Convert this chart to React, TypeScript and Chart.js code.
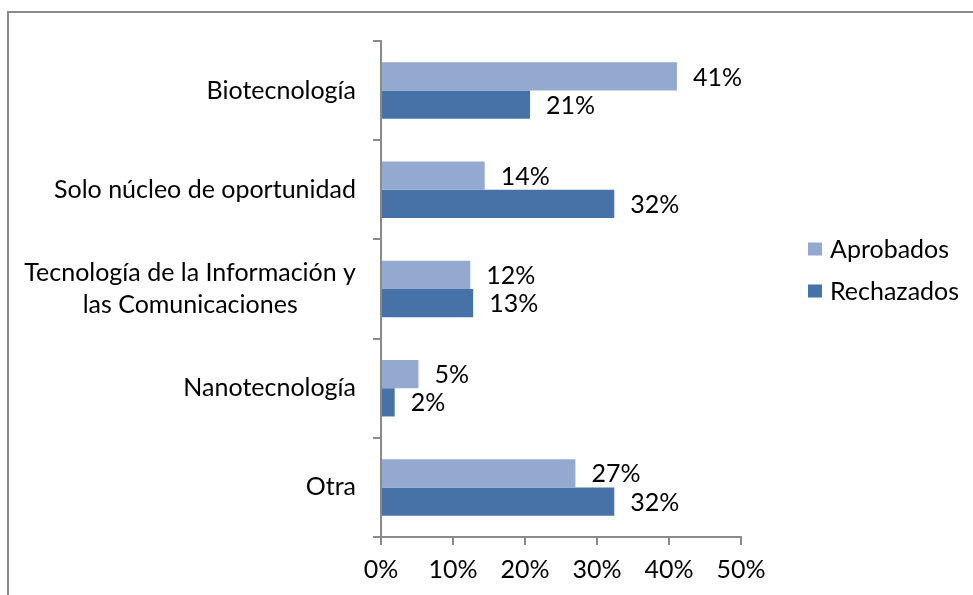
import React, { useEffect, useRef } from "react";
import { Chart, registerables } from "chart.js";

Chart.register(...registerables);

const categories: string[][] = [
  ["Biotecnología"],
  ["Solo núcleo de oportunidad"],
  ["Tecnología de la Información y", "las Comunicaciones"],
  ["Nanotecnología"],
  ["Otra"],
];
const aprobados = [41.1, 14.4, 12.4, 5.2, 27.0];
const rechazados = [20.7, 32.4, 12.8, 1.9, 32.4];
const seriesNames = ["Aprobados", "Rechazados"];
const seriesColors = ["#94A9D0", "#4672A8"];
const xTicks = [0, 10, 20, 30, 40, 50];

const FONT = "Lato";
const FS = 25;
const AXIS_GRAY = "#8a8a8a";

const overlay = {
  id: "overlay",
  beforeDraw(chart: any) {
    const ctx = chart.ctx;
    ctx.save();
    ctx.strokeStyle = "#8a8a8a";
    ctx.lineWidth = 2;
    ctx.beginPath();
    ctx.moveTo(8, 600);
    ctx.lineTo(8, 12);
    ctx.lineTo(980, 12);
    ctx.stroke();
    ctx.restore();
  },
  afterDraw(chart: any) {
    const ctx = chart.ctx;
    const y = chart.scales.y;
    ctx.save();
    ctx.font = `${FS}px ${FONT}`;
    ctx.fillStyle = "#000";
    ctx.textBaseline = "middle";
    // category labels
    const rightEdge = chart.chartArea.left - 25;
    const lineH = 32;
    categories.forEach((lines, i) => {
      const cy = y.getPixelForValue(i);
      const maxW = Math.max(...lines.map((l) => ctx.measureText(l).width));
      const cx = rightEdge - maxW / 2;
      ctx.textAlign = "center";
      lines.forEach((l, k) => {
        const ly = cy + (k - (lines.length - 1) / 2) * lineH;
        ctx.fillText(l, cx, ly);
      });
    });
    // value labels
    ctx.textAlign = "left";
    chart.data.datasets.forEach((ds: any, d: number) => {
      const meta = chart.getDatasetMeta(d);
      meta.data.forEach((el: any, i: number) => {
        const v = ds.data[i];
        ctx.fillText(Math.round(v) + "%", el.x + 16, el.y + 1);
      });
    });
    // legend
    const lx = 808;
    const ly0 = 249;
    const gap = 42;
    chart.data.datasets.forEach((ds: any, d: number) => {
      const cy = ly0 + d * gap;
      ctx.fillStyle = ds.backgroundColor;
      ctx.fillRect(lx, cy - 6.5, 14, 13);
      ctx.fillStyle = "#000";
      ctx.fillText(ds.label, lx + 22, cy + 1);
    });
    ctx.restore();
  },
};

export default function App() {
  const ref = useRef<HTMLCanvasElement | null>(null);
  useEffect(() => {
    if (!ref.current) return;
    const chart = new Chart(ref.current, {
      type: "bar",
      data: {
        labels: categories.map((c) => c.join(" ")),
        datasets: [
          { label: seriesNames[0], data: aprobados, backgroundColor: seriesColors[0] },
          { label: seriesNames[1], data: rechazados, backgroundColor: seriesColors[1] },
        ],
      },
      options: {
        indexAxis: "y",
        animation: false,
        responsive: false,
        events: [],
        layout: { padding: { top: 41, right: 232, bottom: 0, left: 0 } },
        datasets: { bar: { categoryPercentage: 0.57, barPercentage: 1.0 } },
        plugins: { legend: { display: false }, tooltip: { enabled: false } },
        scales: {
          x: {
            type: "linear",
            min: xTicks[0],
            max: xTicks[xTicks.length - 1],
            afterBuildTicks(scale: any) {
              scale.ticks = xTicks.map((v) => ({ value: v }));
            },
            afterFit(scale: any) {
              scale.height = 58;
            },
            ticks: {
              callback: (v: any) => v + "%",
              font: { family: FONT, size: FS },
              color: "#000",
              padding: 10,
              maxRotation: 0,
            },
            grid: { drawOnChartArea: false, drawTicks: true, tickLength: 8, color: AXIS_GRAY, lineWidth: 2 },
            border: { color: AXIS_GRAY, width: 2 },
          },
          y: {
            type: "category",
            afterFit(scale: any) {
              scale.width = 381;
            },
            ticks: { display: false },
            grid: { drawOnChartArea: false, drawTicks: true, tickLength: 8, color: AXIS_GRAY, lineWidth: 2, offset: true },
            border: { color: AXIS_GRAY, width: 2 },
          },
        },
      },
      plugins: [overlay],
    } as any);
    return () => chart.destroy();
  }, []);
  return (
    <div style={{ position: "absolute", left: 0, top: 0, width: 973, height: 595 }}>
      <canvas ref={ref} width={973} height={595} style={{ display: "block" }} />
    </div>
  );
}
